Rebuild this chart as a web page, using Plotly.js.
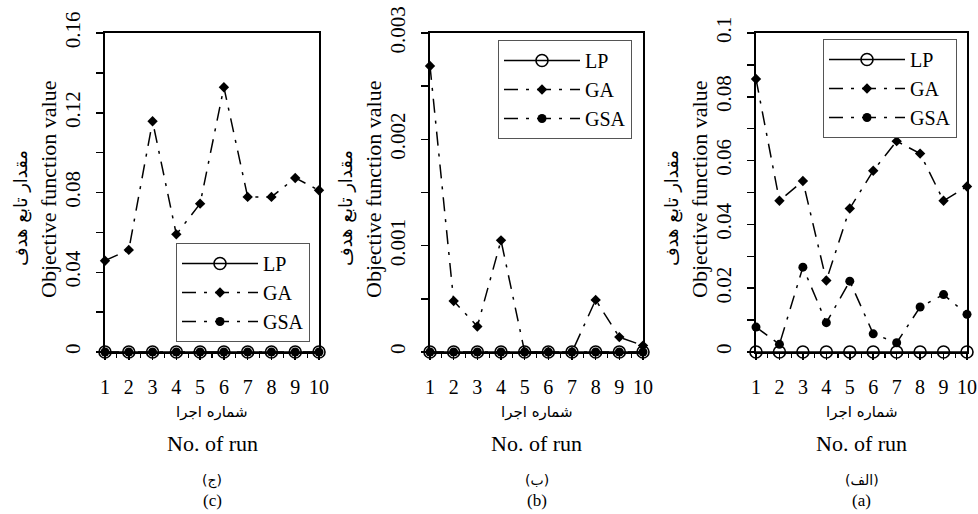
<!DOCTYPE html>
<html>
<head>
<meta charset="utf-8">
<script src="https://cdn.plot.ly/plotly-3.0.1.min.js"></script>
<style>
  html, body { margin: 0; padding: 0; background: #fff; }
  #chart { width: 978px; height: 514px; }
</style>
</head>
<body>
<div id="chart"></div>
<script>
// Run numbers shared by the three panels
const runs = [1, 2, 3, 4, 5, 6, 7, 8, 9, 10];

// Panel (c) – objective function values
const lpC  = [0, 0, 0, 0, 0, 0, 0, 0, 0, 0];
const gaC  = [0.0458, 0.0512, 0.1157, 0.0590, 0.0744, 0.1328, 0.0778, 0.0778, 0.0873, 0.0811];
const gsaC = [0, 0, 0, 0, 0, 0, 0, 0, 0, 0];

// Panel (b)
const lpB  = [0, 0, 0, 0, 0, 0, 0, 0, 0, 0];
const gaB  = [0.00269, 0.00048, 0.00024, 0.00105, 0.0, 0.0, 0.0, 0.00049, 0.00014, 0.00006];
const gsaB = [0, 0, 0, 0, 0, 0, 0, 0, 0, 0];

// Panel (a)
const lpA  = [0, 0, 0, 0, 0, 0, 0, 0, 0, 0];
const gaA  = [0.0856, 0.0474, 0.0536, 0.0224, 0.0450, 0.0568, 0.0661, 0.0622, 0.0474, 0.0519];
const gsaA = [0.0078, 0.0024, 0.0266, 0.0092, 0.0222, 0.0057, 0.0029, 0.0141, 0.0180, 0.0118];

// Axis ranges and tick spacing per panel
const yRangeC = [0, 0.16],  yTickC = 0.04,  yMinorC = 0.02;
const yRangeB = [0, 0.003], yTickB = 0.001, yMinorB = 0.0005;
const yRangeA = [0, 0.1],   yTickA = 0.02,  yMinorA = 0.01;

// Text
const seriesNames = ['LP', 'GA', 'GSA'];
const yTitleEn = 'Objective function value';
const yTitleFa = 'مقدار تابع هدف';
const xTitleEn = 'No. of run';
const xTitleFa = 'شماره اجرا';
const panelFa = ['(ج)', '(ب)', '(الف)'];
const panelEn = ['(c)', '(b)', '(a)'];

const W = 978, H = 514;
const serif = "'Liberation Serif', 'Times New Roman', 'DejaVu Serif', serif";
const farsi = "'DejaVu Sans', sans-serif";
const dashPattern = '14px,8px,3px,8px';

// Plot boxes in pixels: [left, right]; shared top/bottom
const boxes = [[105, 319], [430, 643], [756, 967]];
const plotTop = 33, plotBottom = 352;

function px(x) { return x / W; }
function py(y) { return 1 - y / H; }

function panelTraces(idx, lp, ga, gsa) {
  const ax = idx === 0 ? '' : String(idx + 1);
  const leg = idx === 0 ? 'legend' : 'legend' + (idx + 1);
  const common = { x: runs, xaxis: 'x' + ax, yaxis: 'y' + ax, legend: leg,
                   mode: 'lines+markers', cliponaxis: false };
  return [
    Object.assign({}, common, {
      y: lp, name: seriesNames[0],
      line: { color: '#000', width: 1.6 },
      marker: { symbol: 'circle-open', size: 12, color: '#000', line: { width: 1.6, color: '#000' } }
    }),
    Object.assign({}, common, {
      y: ga, name: seriesNames[1],
      line: { color: '#000', width: 1.5, dash: dashPattern },
      marker: { symbol: 'diamond', size: 8, color: '#000' }
    }),
    Object.assign({}, common, {
      y: gsa, name: seriesNames[2],
      line: { color: '#000', width: 1.5, dash: dashPattern },
      marker: { symbol: 'circle', size: 9, color: '#000' }
    })
  ];
}

const data = [].concat(
  panelTraces(0, lpC, gaC, gsaC),
  panelTraces(1, lpB, gaB, gsaB),
  panelTraces(2, lpA, gaA, gsaA)
);

function xAxis(idx) {
  return {
    domain: [px(boxes[idx][0]), px(boxes[idx][1])],
    anchor: idx === 0 ? 'y' : 'y' + (idx + 1),
    range: [1, 10], tick0: 1, dtick: 1,
    showgrid: false, zeroline: false,
    showline: true, linecolor: '#000', linewidth: 2, mirror: true,
    ticks: 'outside', ticklen: 6, tickwidth: 1.5, tickcolor: '#000',
    ticklabelstandoff: 10,
    minor: { tick0: 1, dtick: 0.5, ticks: 'outside', ticklen: 4, tickwidth: 1.2, tickcolor: '#000', showgrid: false },
    tickfont: { family: serif, size: 20, color: '#000' }
  };
}

function yAxis(idx, range, dtick, minor) {
  return {
    domain: [py(plotBottom), py(plotTop)],
    anchor: idx === 0 ? 'x' : 'x' + (idx + 1),
    range: range, tick0: 0, dtick: dtick,
    showgrid: false, zeroline: false,
    showline: true, linecolor: '#000', linewidth: 2, mirror: true,
    ticks: 'outside', ticklen: 7, tickwidth: 1.5, tickcolor: '#000',
    tickangle: -90, ticklabelstandoff: 8,
    minor: { tick0: 0, dtick: minor, ticks: 'outside', ticklen: 7, tickwidth: 1.5, tickcolor: '#000', showgrid: false },
    tickfont: { family: serif, size: 21, color: '#000' }
  };
}

function legendAt(left, top) {
  return {
    x: px(left), y: py(top), xanchor: 'left', yanchor: 'top',
    bgcolor: '#fff', bordercolor: '#555', borderwidth: 1,
    font: { family: serif, size: 20, color: '#000' },
    itemwidth: 76, tracegroupgap: 0,
    itemclick: false, itemdoubleclick: false
  };
}

const annotations = [];
boxes.forEach((b, i) => {
  const cx = (b[0] + b[1]) / 2;
  const axisX = b[0];
  annotations.push(
    { text: yTitleEn, x: px(axisX - 57), y: py(190), textangle: -90,
      font: { family: serif, size: 22, color: '#000' } },
    { text: yTitleFa, x: px(axisX - 84), y: py(208), textangle: -90,
      font: { family: farsi, size: 18, color: '#000' } },
    { text: xTitleFa, x: px(cx), y: py(412),
      font: { family: farsi, size: 15, color: '#000' } },
    { text: xTitleEn, x: px(cx), y: py(443),
      font: { family: serif, size: 22, color: '#000' } },
    { text: panelFa[i], x: px(cx), y: py(480),
      font: { family: farsi, size: 14, color: '#000' } },
    { text: panelEn[i], x: px(cx), y: py(500),
      font: { family: serif, size: 17, color: '#000' } }
  );
});
annotations.forEach(a => {
  a.xref = 'paper'; a.yref = 'paper'; a.showarrow = false;
  a.xanchor = 'center'; a.yanchor = 'middle';
});

const layout = {
  width: W, height: H,
  margin: { l: 0, r: 0, t: 0, b: 0 },
  paper_bgcolor: '#fff', plot_bgcolor: '#fff',
  font: { family: serif, color: '#000' },
  showlegend: true,
  xaxis: xAxis(0), yaxis: yAxis(0, yRangeC, yTickC, yMinorC),
  xaxis2: xAxis(1), yaxis2: yAxis(1, yRangeB, yTickB, yMinorB),
  xaxis3: xAxis(2), yaxis3: yAxis(2, yRangeA, yTickA, yMinorA),
  legend: legendAt(176, 243),
  legend2: legendAt(498, 40),
  legend3: legendAt(823, 39),
  annotations: annotations
};

Plotly.newPlot('chart', data, layout, { displayModeBar: false, staticPlot: true });
</script>
</body>
</html>
